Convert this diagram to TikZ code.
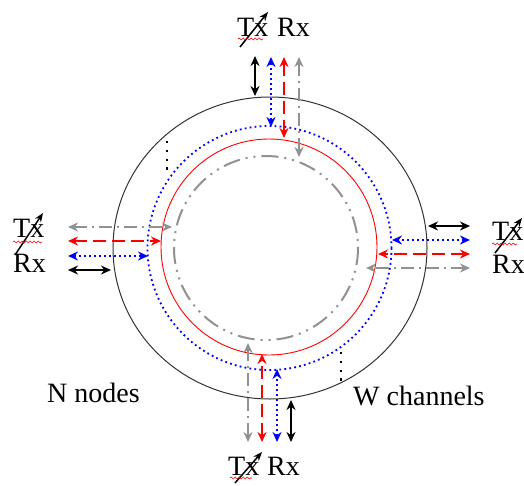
\documentclass[tikz,border=0pt]{standalone}
\usepackage{fontspec}
\setmainfont{Liberation Serif}
\usetikzlibrary{arrows.meta,decorations.pathmorphing}
\definecolor{tgray}{RGB}{145,145,145}
\definecolor{tblue}{RGB}{0,0,255}
\definecolor{tred}{RGB}{255,0,0}
\tikzset{
  dbl/.style={line width=2pt, {Stealth[length=10pt,width=9pt]}-{Stealth[length=10pt,width=9pt]}},
  blk/.style={dbl, black},
  blu/.style={dbl, tblue, dash pattern=on 2pt off 3pt},
  rdd/.style={dbl, tred, dash pattern=on 13pt off 6pt},
  gry/.style={dbl, tgray, dash pattern=on 13pt off 5pt on 2pt off 5pt},
  lbl/.style={anchor=base west, inner sep=0pt, font=\fontsize{28}{31}\selectfont},
  tune/.style={line width=1.5pt, -{Stealth[length=9pt,width=7pt]}},
  squig/.style={tred, line width=0.6pt, decorate, decoration={snake, amplitude=1pt, segment length=4pt}},
  vdots/.style={line width=2.3pt, dash pattern=on 2.3pt off 6.5pt}
}
\begin{document}
\begin{tikzpicture}[x=1pt, y=-1pt]
\useasboundingbox (0,0) rectangle (524,485);
% rings
\coordinate (cBlack) at (270,248);
\coordinate (cBlue) at (269.5,248);
\coordinate (cRed) at (269,247);
\coordinate (cGray) at (266,248);
\draw[black!80, line width=1pt] (cBlack) ellipse [x radius=157, y radius=151];
\draw[tblue, line width=1.8pt, dash pattern=on 1.8pt off 3.2pt] (cBlue) circle [radius=122];
\draw[tred, line width=0.9pt] (cRed) circle [radius=108];
\draw[tgray, line width=2pt, dash pattern=on 17pt off 6pt on 2pt off 6pt on 2pt off 6pt] (cGray) circle [radius=92];
% vertical arrows
\foreach \n/\x/\ya/\yb/\s in {tk/255/56/96/blk, tb/271/57/127/blu, tr/284/57/138/rdd, tg/299/57/157/gry,
  bg/248/442/343/gry, br/262/442/354/rdd, bb/277/442/369/blu, bk/291/442/400/blk}{
  \coordinate (\n a) at (\x,\ya);
  \coordinate (\n b) at (\x,\yb);
  \draw[\s] (\n a) -- (\n b);
}
% horizontal arrows
\foreach \n/\y/\xa/\xb/\s in {lg/227/68/172/gry, lr/241/68/161/rdd, lb/256/68/148/blu, lk/270/68/111/blk,
  rk/226/470/428/blk, rb/240/470/392/blu, rr/254/470/378/rdd, rg/268/470/366/gry}{
  \coordinate (\n a) at (\xa,\y);
  \coordinate (\n b) at (\xb,\y);
  \draw[\s] (\n a) -- (\n b);
}
% labels
\node[lbl] (txT) at (237,36) {Tx};
\node[lbl] (rxT) at (277,36) {Rx};
\node[lbl] (txL) at (13,237) {Tx};
\node[lbl] (rxL) at (13,272) {Rx};
\node[lbl] (txR) at (492,240) {Tx};
\node[lbl] (rxR) at (492,273) {Rx};
\node[lbl] (txB) at (228,475) {Tx};
\node[lbl] (rxB) at (267,475) {Rx};
\node[lbl] (nn) at (47,402) {N nodes};
\node[lbl] (wc) at (353,405) {W channels};
% tunable arrows
\coordinate (aT1) at (240,47); \coordinate (aT2) at (268,12);
\coordinate (aL1) at (15,255); \coordinate (aL2) at (43,213);
\coordinate (aR1) at (495,253); \coordinate (aR2) at (522,218);
\coordinate (aB1) at (235,483); \coordinate (aB2) at (262,452);
\draw[tune] (aT1) -- (aT2);
\draw[tune] (aL1) -- (aL2);
\draw[tune] (aR1) -- (aR2);
\draw[tune] (aB1) -- (aB2);
% red squiggles
\coordinate (sT1) at (238,39); \coordinate (sT2) at (263,39);
\coordinate (sL1) at (13,242); \coordinate (sL2) at (42,242);
\coordinate (sR1) at (492,244); \coordinate (sR2) at (517,244);
\coordinate (sB1) at (230,478); \coordinate (sB2) at (252,478);
\draw[squig] (sT1) -- (sT2);
\draw[squig] (sL1) -- (sL2);
\draw[squig] (sR1) -- (sR2);
\draw[squig] (sB1) -- (sB2);
% dotted markers
\coordinate (d1a) at (167,141); \coordinate (d1b) at (167,172);
\coordinate (d2a) at (341,352); \coordinate (d2b) at (341,382);
\draw[vdots] (d1a) -- (d1b);
\draw[vdots] (d2a) -- (d2b);
\end{tikzpicture}
\end{document}
